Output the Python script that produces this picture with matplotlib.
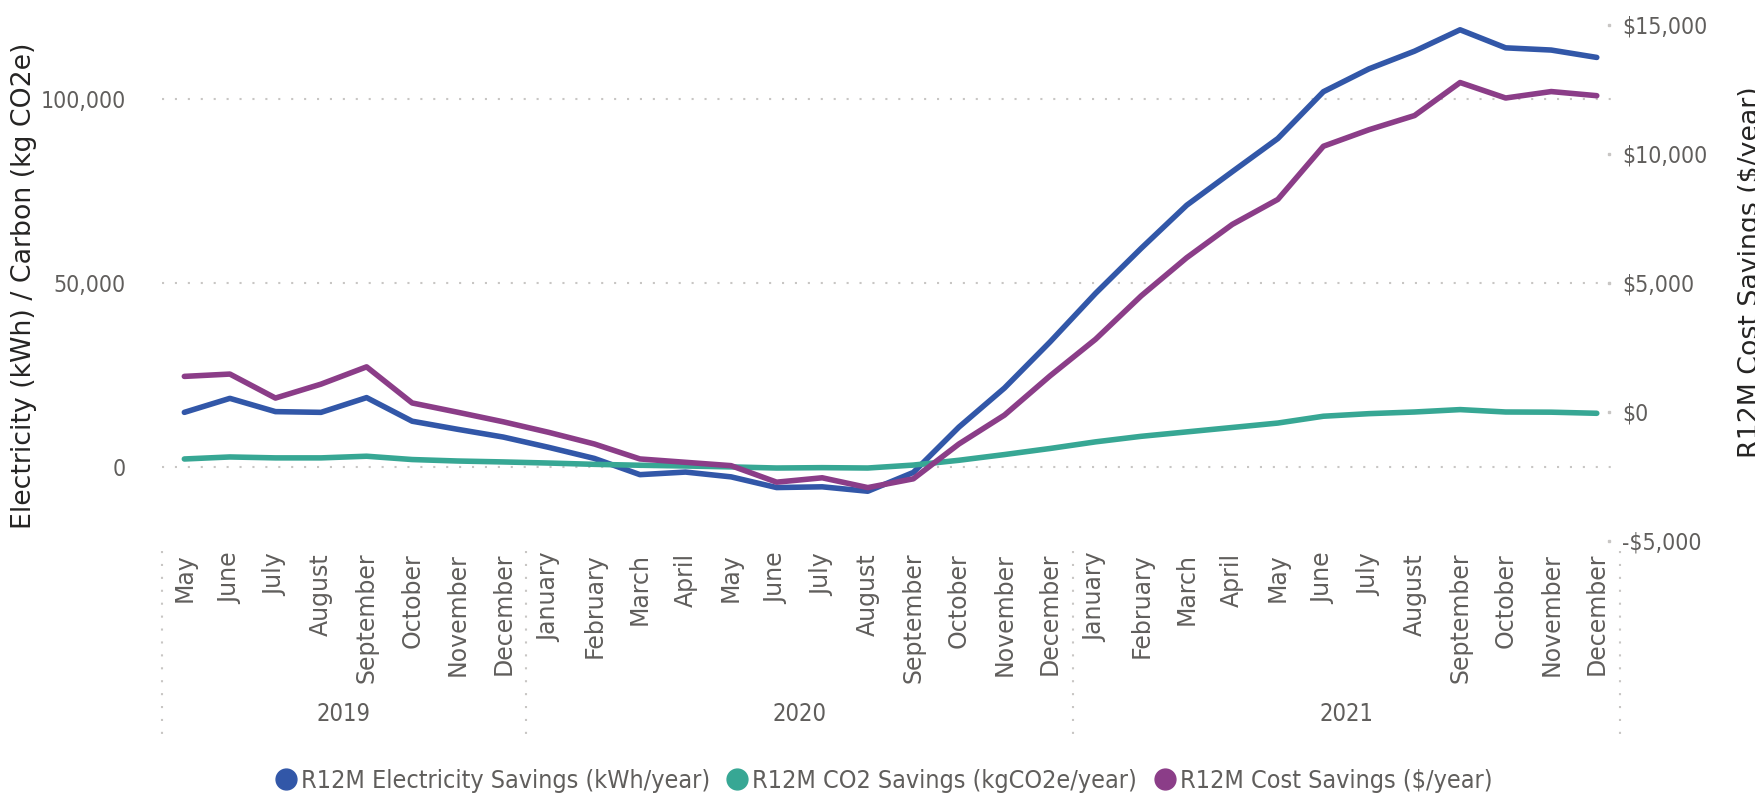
import matplotlib
matplotlib.use("Agg")
import matplotlib.pyplot as plt
from matplotlib.lines import Line2D
from matplotlib.ticker import FuncFormatter
from matplotlib.transforms import blended_transform_factory

# rolling 12-month savings, May 2019 - Dec 2021
months = ["May", "June", "July", "August", "September", "October", "November", "December",
          "January", "February", "March", "April", "May", "June", "July", "August",
          "September", "October", "November", "December",
          "January", "February", "March", "April", "May", "June", "July", "August",
          "September", "October", "November", "December"]
years = ["2019", "2020", "2021"]
year_sizes = [8, 12, 12]

electricity = [14900, 18700, 15100, 14900, 18900, 12500, 10300, 8200,
               5400, 2400, -2000, -1300, -2600, -5500, -5300, -6500,
               -1400, 10900, 21500, 34000,
               47200, 59400, 71100, 80200, 89200, 101900, 108100, 112900,
               118700, 113800, 113200, 111200]
co2 = [2250, 2800, 2550, 2550, 3000, 2100, 1700, 1450,
       1150, 800, 550, 350, 100, -200, -100, -200,
       600, 1900, 3450, 5100,
       6900, 8400, 9600, 10800, 12000, 13850, 14550, 15000,
       15650, 15000, 14950, 14650]
cost = [1380, 1470, 540, 1080, 1750, 350, -10, -380,
        -790, -1240, -1820, -1950, -2080, -2720, -2550, -2930,
        -2590, -1240, -120, 1400,
        2820, 4500, 5980, 7270, 8240, 10300, 10940, 11490,
        12770, 12170, 12420, 12260]

left_ticks = [0, 50000, 100000]
right_ticks = [-5000, 0, 5000, 10000, 15000]

BLUE = "#3257A8"
GREEN = "#37A794"
PURPLE = "#8B3D88"
GRID = "#C8C6C4"
TXT = "#605E5C"
DOTS = (0, (1, 5.2))

x = list(range(len(months)))

fig = plt.figure(figsize=(17.56, 8.01), dpi=100)
ax = fig.add_axes([0.092, 0.3246, 0.8303, 0.6442])
ax2 = ax.twinx()

line_kw = dict(lw=4, solid_capstyle="round", solid_joinstyle="round", zorder=3)
ax.plot(x, electricity, color=BLUE, **line_kw)
ax.plot(x, co2, color=GREEN, **line_kw)
ax2.plot(x, cost, color=PURPLE, **line_kw)

ax.set_xlim(-0.5, len(months) - 0.5)
ax.set_ylim(-20000, 120000)
ax2.set_ylim(-5000, 15000)

ax.set_yticks(left_ticks)
ax.yaxis.set_major_formatter(FuncFormatter(lambda v, p: f"{v:,.0f}"))
ax2.set_yticks(right_ticks)
ax2.yaxis.set_major_formatter(
    FuncFormatter(lambda v, p: f"-${abs(v):,.0f}" if v < 0 else f"${v:,.0f}"))

ax.grid(axis="y", color=GRID, lw=1.5, linestyle=DOTS)
ax.set_axisbelow(True)
for a in (ax, ax2):
    for s in a.spines.values():
        s.set_visible(False)

ax.tick_params(axis="y", length=0, pad=26, labelsize=16.5, labelcolor=TXT)
ax2.tick_params(axis="y", length=0, pad=2, labelsize=16.5, labelcolor=TXT)
for lab in ax.get_yticklabels() + ax2.get_yticklabels():
    lab.set_fontstretch("condensed")

# small dot marks next to the right-hand ticks
rt = blended_transform_factory(ax2.transAxes, ax2.transData)
ax2.plot([0.9928] * len(right_ticks), right_ticks, "s", ms=2, color=GRID,
         transform=rt, clip_on=False)

ax.set_xticks(x)
ax.set_xticklabels(months, rotation=90, va="top", ha="center", fontsize=17, color=TXT)
ax.tick_params(axis="x", length=0, pad=8.5)

# year bands under the month labels
bt = ax.get_xaxis_transform()
edges = [-0.5]
for n in year_sizes:
    edges.append(edges[-1] + n)
for e in edges:
    ax.add_line(Line2D([e, e], [-0.02, -0.385], transform=bt, clip_on=False,
                       color=GRID, lw=1.5, linestyle=DOTS))
for i, yr in enumerate(years):
    ax.text((edges[i] + edges[i + 1]) / 2, -0.335, yr, transform=bt, ha="center",
            va="center", fontsize=17, color=TXT, fontstretch="condensed")

fig.text(0.006, 0.643, "Electricity (kWh) / Carbon (kg CO2e)", rotation=90,
         ha="left", va="center", fontsize=19.3, color="#252423")
fig.text(0.9895, 0.66, "R12M Cost Savings ($/year)", rotation=90,
         ha="left", va="center", fontsize=19.3, color="#252423")

handles = [Line2D([], [], marker="o", ls="", ms=15, color=c) for c in (BLUE, GREEN, PURPLE)]
names = ["R12M Electricity Savings (kWh/year)", "R12M CO2 Savings (kgCO2e/year)",
         "R12M Cost Savings ($/year)"]
leg = fig.legend(handles, names, loc="center", bbox_to_anchor=(0.502, 0.025), ncol=3,
                 frameon=False, handletextpad=0.0, columnspacing=0.5, handlelength=1.2,
                 prop={"size": 18, "stretch": "condensed"})
for t in leg.get_texts():
    t.set_color(TXT)

fig.savefig("out.png", dpi=100)
